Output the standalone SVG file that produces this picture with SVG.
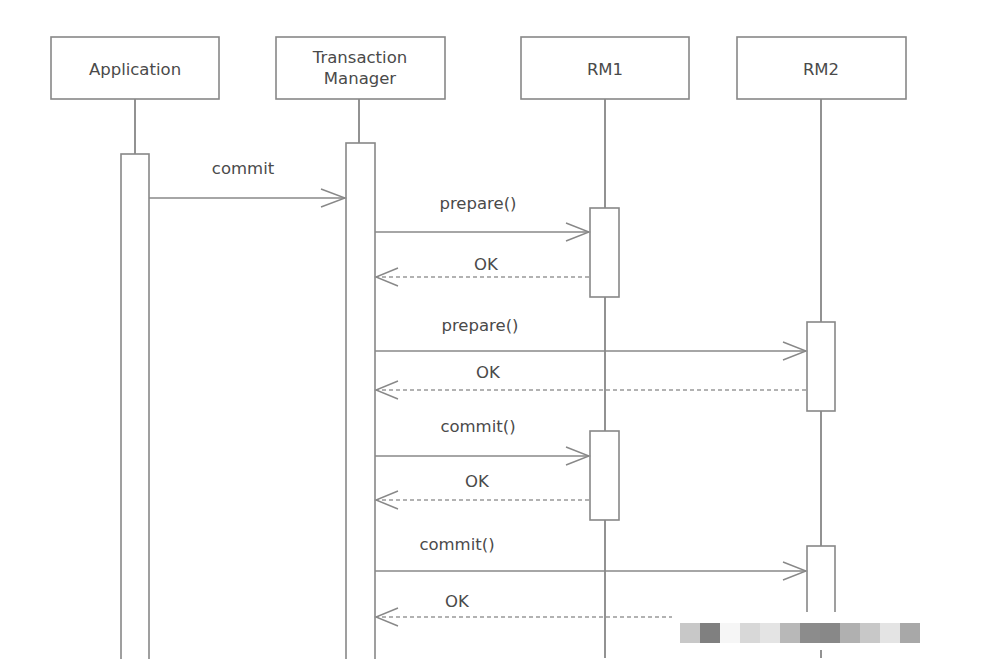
<svg xmlns="http://www.w3.org/2000/svg" width="986" height="670" viewBox="0 0 986 670">
<defs>
<style>
.box{fill:#fff;stroke:#888;stroke-width:1.6}
.act{fill:#fff;stroke:#888;stroke-width:1.6}
.life{stroke:#777;stroke-width:1.6;fill:none}
.msg{stroke:#888;stroke-width:1.6;fill:none}
.ret{stroke:#999;stroke-width:1.5;fill:none;stroke-dasharray:4 3}
.head{stroke:#888;stroke-width:1.4;fill:none}
text{font-family:"DejaVu Sans","Liberation Sans",sans-serif;font-size:16.5px;fill:#4a4a4a;text-anchor:middle}
</style>
</defs>
<rect width="986" height="670" fill="#fff"/>
<g id="lifelines">
<line class="life" x1="135" y1="99" x2="135" y2="658"/>
<line class="life" x1="359" y1="99" x2="359" y2="658"/>
<line class="life" x1="605" y1="99" x2="605" y2="658"/>
<line class="life" x1="821" y1="99" x2="821" y2="658"/>
</g>
<g id="application">
<rect class="box" x="51" y="37" width="168" height="62"/>
<text x="135" y="75">Application</text>
<rect class="act" x="121" y="154" width="28" height="510"/>
</g>
<g id="tm">
<rect class="box" x="276" y="37" width="169" height="62"/>
<text x="360" y="63">Transaction</text>
<text x="360" y="84">Manager</text>
<rect class="act" x="346" y="143" width="29" height="521"/>
</g>
<g id="rm1">
<rect class="box" x="521" y="37" width="168" height="62"/>
<text x="605" y="75">RM1</text>
<rect class="act" x="590" y="208" width="29" height="89"/>
<rect class="act" x="590" y="431" width="29" height="89"/>
</g>
<g id="rm2">
<rect class="box" x="737" y="37" width="169" height="62"/>
<text x="821" y="75">RM2</text>
<rect class="act" x="807" y="322" width="28" height="89"/>
<rect class="act" x="807" y="546" width="28" height="100"/>
</g>
<g id="connectors">
<line class="msg" x1="149" y1="198" x2="345" y2="198"/>
<polyline class="head" points="321,189 345,198 321,207"/>
<text x="243" y="174">commit</text>
<line class="msg" x1="375" y1="232" x2="589" y2="232"/>
<polyline class="head" points="566,223 589,232 566,241"/>
<text x="478" y="209">prepare()</text>
<line class="ret" x1="589" y1="277" x2="376" y2="277"/>
<polyline class="head" points="398,268 376,277 398,286"/>
<text x="486" y="270">OK</text>
<line class="msg" x1="375" y1="351" x2="806" y2="351"/>
<polyline class="head" points="783,342 806,351 783,360"/>
<text x="480" y="331">prepare()</text>
<line class="ret" x1="806" y1="390" x2="376" y2="390"/>
<polyline class="head" points="398,381 376,390 398,399"/>
<text x="488" y="378">OK</text>
<line class="msg" x1="375" y1="456" x2="589" y2="456"/>
<polyline class="head" points="566,447 589,456 566,465"/>
<text x="478" y="432">commit()</text>
<line class="ret" x1="589" y1="500" x2="376" y2="500"/>
<polyline class="head" points="398,491 376,500 398,509"/>
<text x="477" y="487">OK</text>
<line class="msg" x1="375" y1="571" x2="806" y2="571"/>
<polyline class="head" points="783,562 806,571 783,580"/>
<text x="457" y="550">commit()</text>
<line class="ret" x1="806" y1="617" x2="376" y2="617"/>
<polyline class="head" points="398,608 376,617 398,626"/>
<text x="457" y="607">OK</text>
</g>
<g id="watermark">
<rect x="672" y="612" width="278" height="38" fill="#fff"/>
<rect x="680" y="623" width="20" height="20" fill="#c8c8c8"/>
<rect x="700" y="623" width="20" height="20" fill="#808080"/>
<rect x="720" y="623" width="20" height="20" fill="#f6f6f6"/>
<rect x="740" y="623" width="20" height="20" fill="#d8d8d8"/>
<rect x="760" y="623" width="20" height="20" fill="#e4e4e4"/>
<rect x="780" y="623" width="20" height="20" fill="#b8b8b8"/>
<rect x="800" y="623" width="20" height="20" fill="#8c8c8c"/>
<rect x="820" y="623" width="20" height="20" fill="#888"/>
<rect x="840" y="623" width="20" height="20" fill="#b0b0b0"/>
<rect x="860" y="623" width="20" height="20" fill="#c8c8c8"/>
<rect x="880" y="623" width="20" height="20" fill="#e4e4e4"/>
<rect x="900" y="623" width="20" height="20" fill="#a8a8a8"/>
</g>
<rect x="0" y="659" width="986" height="11" fill="#fff"/>
</svg>
